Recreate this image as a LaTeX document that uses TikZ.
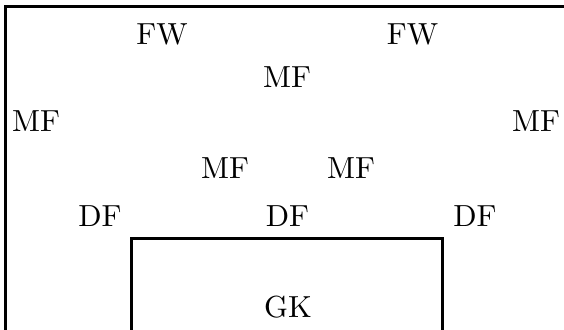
\documentclass[tikz,border=0pt]{standalone}
\begin{document}
\begin{tikzpicture}[x=1pt,y=-1pt,
  player/.style={inner sep=0pt,font=\fontsize{10}{12}\selectfont,scale=3.05},
  rim/.style={line width=3.2pt}]
\useasboundingbox (0,0) rectangle (564,329);
% pitch outline (left and top edges)
\draw[rim] (5.5,335) -- (5.5,6.5) -- (570,6.5);
% goal area
\draw[rim] (131.5,335) -- (131.5,238.5) -- (442.5,238.5) -- (442.5,335);
% forwards
\node[player] (fw1) at (162,34.5) {FW};
\node[player] (fw2) at (412.5,34.5) {FW};
% midfield
\node[player] (mf1) at (287,77) {MF};
\node[player] (mf2) at (36,121.5) {MF};
\node[player] (mf3) at (536,121.5) {MF};
\node[player] (mf4) at (225,168) {MF};
\node[player] (mf5) at (351,168) {MF};
% defence
\node[player] (df1) at (100,216) {DF};
\node[player] (df2) at (287.5,216) {DF};
\node[player] (df3) at (475,216) {DF};
% goalkeeper
\node[player] (gk) at (288,307) {GK};
\end{tikzpicture}
\end{document}
